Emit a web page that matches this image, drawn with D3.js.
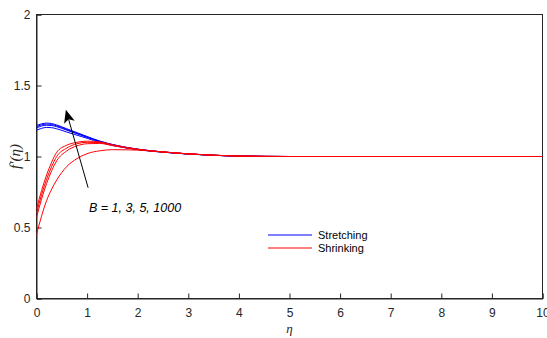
<!DOCTYPE html>
<html><head><meta charset="utf-8">
<script src="https://cdn.jsdelivr.net/npm/d3@7"></script>
<style>
html,body{margin:0;padding:0;background:#fff;}
svg{display:block;}
</style></head>
<body>
<script>
// ---- data ----
const eta = [0, 0.1, 0.2, 0.3, 0.4, 0.6, 0.8, 1.0, 1.25, 1.5, 2, 2.5, 3, 3.5, 4, 5, 6, 7, 8, 9, 10];
const stretchB1    = [1.185,1.198,1.205,1.203,1.195,1.172,1.150,1.128,1.100,1.078,1.048,1.030,1.017,1.008,1.003,1.0,1.0,1.0,1.0,1.0,1.0];
const stretchB3    = [1.200,1.215,1.220,1.218,1.210,1.185,1.160,1.135,1.105,1.081,1.050,1.031,1.018,1.008,1.003,1.0,1.0,1.0,1.0,1.0,1.0];
const stretchB5    = [1.210,1.223,1.228,1.225,1.216,1.190,1.164,1.138,1.107,1.083,1.051,1.032,1.018,1.009,1.003,1.0,1.0,1.0,1.0,1.0,1.0];
const stretchB1000 = [1.218,1.230,1.235,1.232,1.222,1.195,1.168,1.141,1.109,1.085,1.052,1.032,1.018,1.009,1.003,1.0,1.0,1.0,1.0,1.0,1.0];
const shrinkB1     = [0.45,0.58,0.69,0.77,0.835,0.93,0.985,1.02,1.04,1.048,1.045,1.032,1.019,1.009,1.004,1.0,1.0,1.0,1.0,1.0,1.0];
const shrinkB3     = [0.57,0.70,0.81,0.90,0.97,1.04,1.075,1.09,1.092,1.077,1.049,1.031,1.018,1.009,1.003,1.0,1.0,1.0,1.0,1.0,1.0];
const shrinkB5     = [0.60,0.73,0.84,0.93,1.00,1.06,1.09,1.10,1.098,1.080,1.050,1.032,1.018,1.009,1.003,1.0,1.0,1.0,1.0,1.0,1.0];
const shrinkB1000  = [0.63,0.76,0.87,0.96,1.03,1.08,1.10,1.108,1.103,1.083,1.051,1.032,1.018,1.009,1.003,1.0,1.0,1.0,1.0,1.0,1.0];
const stretching = [stretchB1, stretchB3, stretchB5, stretchB1000];
const shrinking  = [shrinkB1, shrinkB3, shrinkB5, shrinkB1000];
const xTicks = [0,1,2,3,4,5,6,7,8,9,10];
const yTicks = [0,0.5,1,1.5,2];
const legendLabels = ["Stretching", "Shrinking"];
const annotationText = "B = 1, 3, 5, 1000";
const arrowTail = [1.02, 0.78];
const arrowTip  = [0.58, 1.33];

// ---- layout ----
const W = 547, H = 338;
const L = 36.5, R = 542.5, T = 14.5, B = 298.5;
const axisColor = "#262626";
const font = "'Liberation Sans', Arial, Helvetica, sans-serif";
const serif = "'Liberation Serif', 'Times New Roman', serif";

const svg = d3.select("body").append("svg").attr("width", W).attr("height", H);
const x = d3.scaleLinear().domain([0,10]).range([L, R]);
const y = d3.scaleLinear().domain([0,2]).range([B, T]);

// box
svg.append("rect").attr("x", L).attr("y", T).attr("width", R-L).attr("height", B-T)
  .attr("fill", "none").attr("stroke", axisColor).attr("stroke-width", 1);

// axes
const xAxis = d3.axisBottom(x).tickValues(xTicks).tickSize(-5).tickPadding(10).tickFormat(d3.format("d"));
const gx = svg.append("g").attr("transform", `translate(0,${B})`).call(xAxis);
const yAxis = d3.axisLeft(y).tickValues(yTicks).tickSize(-5).tickPadding(6).tickFormat(d => d3.format("")(d));
const gy = svg.append("g").attr("transform", `translate(${L},0)`).call(yAxis);
[gx, gy].forEach(g => {
  g.select(".domain").attr("stroke", axisColor);
  g.selectAll(".tick line").attr("stroke", axisColor);
  g.selectAll(".tick text").attr("fill", axisColor).style("font-family", font).style("font-size", "12px");
});

// curves
const line = d3.line().x((d,i) => x(eta[i])).y(d => y(d)).curve(d3.curveMonotoneX);
svg.append("clipPath").attr("id","clip").append("rect")
  .attr("x", L).attr("y", T).attr("width", R-L).attr("height", B-T);
const plot = svg.append("g").attr("clip-path","url(#clip)");
stretching.forEach(s => plot.append("path").attr("d", line(s)).attr("fill","none").attr("stroke","#0000ff").attr("stroke-width",1));
shrinking.forEach(s => plot.append("path").attr("d", line(s)).attr("fill","none").attr("stroke","#ff0000").attr("stroke-width",1));

// arrow
const x1 = x(arrowTail[0]), y1 = y(arrowTail[1]), x2 = x(arrowTip[0]), y2 = y(arrowTip[1]);
const ang = Math.atan2(y2-y1, x2-x1);
const hl = 13, hw = 5.5, back = 3;
const bx = x2 - hl*Math.cos(ang), by = y2 - hl*Math.sin(ang);
const nx = -Math.sin(ang), ny = Math.cos(ang);
const ix = x2 - (hl-back)*Math.cos(ang), iy = y2 - (hl-back)*Math.sin(ang);
svg.append("line").attr("x1", x1).attr("y1", y1).attr("x2", ix).attr("y2", iy)
  .attr("stroke", "#000").attr("stroke-width", 1);
svg.append("path").attr("d", `M${x2},${y2}L${bx+hw*nx},${by+hw*ny}L${ix},${iy}L${bx-hw*nx},${by-hw*ny}Z`)
  .attr("fill", "#000");

// annotation text
svg.append("text").attr("x", 89).attr("y", 212).text(annotationText)
  .style("font-family", font).style("font-size", "12.5px").style("font-style","italic").attr("fill","#000");

// legend
const legColors = ["#0000ff", "#ff0000"];
legendLabels.forEach((lab, i) => {
  const ly = 235 + i*13;
  svg.append("line").attr("x1", 268).attr("x2", 312).attr("y1", ly).attr("y2", ly)
    .attr("stroke", legColors[i]).attr("stroke-width", 1);
  svg.append("text").attr("x", 318).attr("y", ly + 4).text(lab)
    .style("font-family", font).style("font-size", "11px").attr("fill", "#000");
});

// axis labels
svg.append("text").attr("x", (L+R)/2).attr("y", 333).attr("text-anchor","middle")
  .style("font-family", serif).style("font-size","13px").style("font-style","italic")
  .attr("fill", axisColor).text("η");
svg.append("text").attr("transform", `translate(20,${(T+B)/2}) rotate(-90)`).attr("text-anchor","middle")
  .style("font-family", serif).style("font-size","15px").style("font-style","italic")
  .attr("fill", axisColor).text("f′(η)");
</script>
</body></html>
